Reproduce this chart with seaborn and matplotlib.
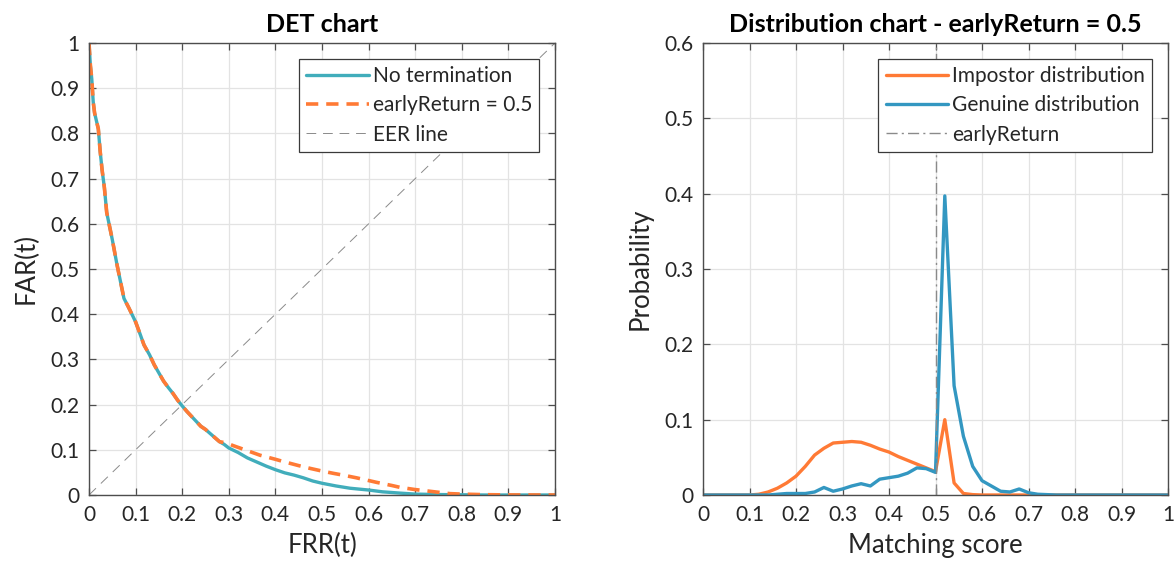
import numpy as np
import pandas as pd
import matplotlib
matplotlib.use("Agg")
import matplotlib.pyplot as plt
import seaborn as sns

# ---- DET curve data (FRR, FAR) ----
frr_shared = [0.0, 0.003, 0.006, 0.009, 0.012, 0.02, 0.024, 0.028, 0.033, 0.038,
              0.045, 0.05, 0.06, 0.068, 0.075, 0.085, 0.1, 0.11, 0.118, 0.13,
              0.14, 0.15, 0.16, 0.17, 0.18, 0.19, 0.2, 0.21, 0.22, 0.23,
              0.24, 0.25, 0.26, 0.27, 0.28]
far_shared = [1.0, 0.95, 0.92, 0.87, 0.845, 0.81, 0.76, 0.72, 0.68, 0.625,
              0.59, 0.565, 0.51, 0.47, 0.435, 0.415, 0.383, 0.355, 0.332, 0.31,
              0.288, 0.27, 0.252, 0.238, 0.225, 0.21, 0.197, 0.185, 0.174, 0.163,
              0.152, 0.145, 0.136, 0.127, 0.118]

frr_tail_none = [0.29, 0.30, 0.32, 0.34, 0.36, 0.38, 0.40, 0.42, 0.44, 0.46,
                 0.48, 0.50, 0.53, 0.56, 0.60, 0.63, 0.67, 0.70, 0.75, 0.80,
                 0.85, 1.0]
far_tail_none = [0.112, 0.104, 0.094, 0.082, 0.073, 0.064, 0.056, 0.049, 0.044, 0.038,
                 0.031, 0.026, 0.020, 0.015, 0.011, 0.007, 0.004, 0.002, 0.001, 0.0005,
                 0.0, 0.0]

frr_tail_early = [0.29, 0.30, 0.31, 0.34, 0.367, 0.40, 0.417, 0.45, 0.474, 0.50,
                  0.524, 0.55, 0.574, 0.60, 0.617, 0.65, 0.667, 0.70, 0.717, 0.75,
                  0.775, 0.80, 0.85, 0.90, 1.0]
far_tail_early = [0.116, 0.113, 0.109, 0.098, 0.088, 0.079, 0.074, 0.065, 0.059, 0.053,
                  0.048, 0.043, 0.038, 0.032, 0.028, 0.021, 0.017, 0.012, 0.010, 0.006,
                  0.003, 0.002, 0.0007, 0.0002, 0.0]

eer_line = [0.0, 1.0]

# ---- Score distributions ----
early_return = 0.5
scores = [0.00, 0.02, 0.04, 0.06, 0.08, 0.10, 0.12, 0.14, 0.16, 0.18,
          0.20, 0.22, 0.24, 0.26, 0.28, 0.30, 0.32, 0.34, 0.36, 0.38,
          0.40, 0.42, 0.44, 0.46, 0.48, 0.50, 0.52, 0.54, 0.56, 0.58,
          0.60, 0.62, 0.64, 0.66, 0.68, 0.70, 0.72, 0.74, 0.76, 0.78,
          0.80, 0.82, 0.84, 0.86, 0.88, 0.90, 0.92, 0.94, 0.96, 0.98, 1.00]
impostor = [0, 0, 0, 0, 0, 0, 0.001, 0.004, 0.009, 0.016,
            0.025, 0.038, 0.053, 0.062, 0.069, 0.070, 0.071, 0.070, 0.066, 0.061,
            0.057, 0.051, 0.046, 0.041, 0.036, 0.031, 0.100, 0.016, 0.002, 0.0005,
            0, 0, 0, 0, 0, 0, 0, 0, 0, 0,
            0, 0, 0, 0, 0, 0, 0, 0, 0, 0, 0]
genuine = [0, 0, 0, 0, 0, 0, 0, 0, 0.001, 0.002,
           0.002, 0.002, 0.004, 0.010, 0.005, 0.008, 0.012, 0.015, 0.012, 0.021,
           0.023, 0.025, 0.029, 0.036, 0.035, 0.030, 0.397, 0.145, 0.078, 0.038,
           0.019, 0.012, 0.005, 0.004, 0.008, 0.003, 0.001, 0.0005, 0, 0,
           0, 0, 0, 0, 0, 0, 0, 0, 0, 0, 0]

ticks_unit = [0, 0.1, 0.2, 0.3, 0.4, 0.5, 0.6, 0.7, 0.8, 0.9, 1]
ticks_unit_labels = ["0", "0.1", "0.2", "0.3", "0.4", "0.5", "0.6", "0.7", "0.8", "0.9", "1"]
ticks_prob = [0, 0.1, 0.2, 0.3, 0.4, 0.5, 0.6]
ticks_prob_labels = ["0", "0.1", "0.2", "0.3", "0.4", "0.5", "0.6"]

sns.set_theme(style="whitegrid")
plt.rcParams["font.family"] = ["Lato", "DejaVu Sans"]

TEAL = "#41adbb"
ORANGE = "#ff7a35"
BLUE = "#3397c1"
GRAY = "#8a8a8a"
TXT = "#262626"
EDGE = "#4d4d4d"

fig = plt.figure(figsize=(11.76, 5.68), dpi=100)
ax1 = fig.add_axes([89 / 1176, 73 / 568, 466 / 1176, 452 / 568])
ax2 = fig.add_axes([703 / 1176, 73 / 568, 465 / 1176, 452 / 568])

det_none = pd.DataFrame({"FRR": frr_shared + frr_tail_none,
                         "FAR": far_shared + far_tail_none})
det_early = pd.DataFrame({"FRR": frr_shared + frr_tail_early,
                          "FAR": far_shared + far_tail_early})

sns.lineplot(data=det_none, x="FRR", y="FAR", ax=ax1, sort=False, estimator=None,
             color=TEAL, linewidth=2.4, label="No termination")
sns.lineplot(data=det_early, x="FRR", y="FAR", ax=ax1, sort=False, estimator=None,
             color=ORANGE, linewidth=2.6, label="earlyReturn = 0.5", dashes=False)
ax1.lines[-1].set_dashes([3.4, 2.2])
sns.lineplot(x=eer_line, y=eer_line, ax=ax1, sort=False, estimator=None,
             color=GRAY, linewidth=0.7, label="EER line")
ax1.lines[-1].set_dashes([10, 7])

dist = pd.DataFrame({"score": scores, "Impostor distribution": impostor,
                     "Genuine distribution": genuine})
sns.lineplot(data=dist, x="score", y="Impostor distribution", ax=ax2,
             color=ORANGE, linewidth=2.4, label="Impostor distribution")
sns.lineplot(data=dist, x="score", y="Genuine distribution", ax=ax2,
             color=BLUE, linewidth=2.4, label="Genuine distribution")
ax2.axvline(early_return, color=GRAY, linewidth=1.0, linestyle="-.",
            label="earlyReturn")
ax2.lines[-1].set_dashes([8, 3, 1.5, 3])

ax1.set_xlim(0, 1)
ax1.set_ylim(0, 1)
ax1.set_xticks(ticks_unit, ticks_unit_labels)
ax1.set_yticks(ticks_unit, ticks_unit_labels)
ax1.set_xlabel("FRR(t)", fontsize=18.5, color=TXT, labelpad=6)
ax1.set_ylabel("FAR(t)", fontsize=18.5, color=TXT, labelpad=8)
ax1.set_title("DET chart", fontsize=18, fontweight="bold", color="black", pad=8)

ax2.set_xlim(0, 1)
ax2.set_ylim(0, 0.6)
ax2.set_xticks(ticks_unit, ticks_unit_labels)
ax2.set_yticks(ticks_prob, ticks_prob_labels)
ax2.set_xlabel("Matching score", fontsize=18.5, color=TXT, labelpad=6)
ax2.set_ylabel("Probability", fontsize=18.5, color=TXT, labelpad=8)
ax2.set_title("Distribution chart - earlyReturn = 0.5", fontsize=18,
              fontweight="bold", color="black", pad=8)

for ax in (ax1, ax2):
    ax.grid(True, color="#e3e3e3", linewidth=0.9)
    ax.set_axisbelow(True)
    for sp in ax.spines.values():
        sp.set_visible(True)
        sp.set_color(EDGE)
        sp.set_linewidth(1.0)
    ax.tick_params(axis="both", which="both", direction="in", length=5, width=0.9,
                   color=EDGE, labelcolor=TXT, labelsize=15, top=True, right=True,
                   bottom=True, left=True, pad=7)
    leg = ax.legend(loc="upper right", fontsize=15, frameon=True, fancybox=False,
                    framealpha=1, edgecolor="#3a3a3a", handlelength=3.0,
                    handletextpad=0.2, borderaxespad=0.75, borderpad=0.35,
                    labelspacing=0.45)
    leg.get_frame().set_linewidth(0.9)
    for t in leg.get_texts():
        t.set_color(TXT)

fig.savefig("out.png", dpi=100, facecolor="white")
